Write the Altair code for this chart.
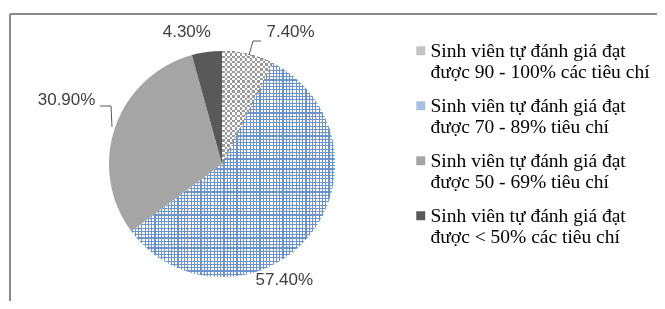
import altair as alt
import pandas as pd

categories = [
    "Sinh viên tự đánh giá đạt\nđược 90 - 100% các tiêu chí",
    "Sinh viên tự đánh giá đạt\nđược 70 - 89% tiêu chí",
    "Sinh viên tự đánh giá đạt\nđược 50 - 69% tiêu chí",
    "Sinh viên tự đánh giá đạt\nđược < 50% các tiêu chí",
]
values = [7.4, 57.4, 30.9, 4.3]
value_labels = ["7.40%", "57.40%", "30.90%", "4.30%"]
colors = ["#c4c4c4", "#a7bfe3", "#a5a5a5", "#595959"]

df = pd.DataFrame({
    "cat": categories,
    "value": values,
    "label": value_labels,
    "order": list(range(len(values))),
})

W, H = 647, 287
CX, CY, R = 212, 150, 113
theta_scale = alt.Scale(domain=[0, 100], range=[0, 6.283185307179586])

base = alt.Chart(df)
pie_enc = dict(
    theta=alt.Theta("value:Q", stack=True, scale=theta_scale),
    order=alt.Order("order:Q"),
    x=alt.value(CX),
    y=alt.value(CY),
)

pie = base.mark_arc(outerRadius=R).encode(
    color=alt.Color(
        "cat:N",
        sort=categories,
        scale=alt.Scale(domain=categories, range=colors),
        legend=alt.Legend(
            title=None, orient="none", legendX=401, legendY=27,
            symbolType="square", symbolSize=80, symbolStrokeWidth=0,
            labelFont="Liberation Serif", labelFontSize=19.5, labelColor="black",
            labelExpr="split(datum.label, '\\n')", labelLimit=400,
            rowPadding=13, labelOffset=0,
        ),
    ),
    **pie_enc,
)


def stripes(n, frac, line, gap, vertical):
    stops = []
    for k in range(n):
        a, b, c = k / n, (k + frac) / n, (k + 1) / n
        stops += [alt.GradientStop(offset=a, color=line),
                  alt.GradientStop(offset=b, color=line),
                  alt.GradientStop(offset=b, color=gap),
                  alt.GradientStop(offset=c, color=gap)]
    if vertical:
        return alt.LinearGradient(gradient="linear", stops=stops, x1=0, x2=1, y1=0, y2=0)
    return alt.LinearGradient(gradient="linear", stops=stops, x1=0, x2=0, y1=0, y2=1)


def only(i):
    return alt.condition(f"datum.order == {i}", alt.value(1), alt.value(0))


# blue grid texture on the 57.40% slice
BLUE = "#6a93d0"
grid_v = base.mark_arc(outerRadius=R, fill=stripes(62, 0.35, BLUE, "#ffffff", True)).encode(
    opacity=only(1), **pie_enc)
grid_h = base.mark_arc(outerRadius=R, fill=stripes(65, 0.35, BLUE, "rgba(255,255,255,0)", False)).encode(
    opacity=only(1), **pie_enc)

# checker texture on the 7.40% slice
chk_v = base.mark_arc(outerRadius=R, fill=stripes(10, 0.5, "#000000", "#ffffff", True)).encode(
    opacity=only(0), **pie_enc)
chk_h = base.mark_arc(outerRadius=R, blend="difference",
                      fill=stripes(23, 0.5, "#000000", "#ffffff", False)).encode(
    opacity=only(0), **pie_enc)
chk_g = base.mark_arc(outerRadius=R, blend="lighten", fill="#9a9a9a").encode(
    opacity=only(0), **pie_enc)

lab = base.transform_window(
    cum="sum(value)", sort=[alt.SortField("order")], frame=[None, 0]
).transform_calculate(mid="datum.cum - datum.value / 2")

# label nudges (Excel labels were moved by hand)
nudges = [(37, 1, 137), (-45, 26, 140), (-23, -19, 140), (-17, 2, 135)]
text_layers = []
for i, (dx, dy, rad) in enumerate(nudges):
    text_layers.append(
        lab.transform_filter(f"datum.order == {i}").mark_text(
            radius=rad, dx=dx, dy=dy, font="Liberation Sans", fontSize=17,
            color="#404040",
        ).encode(
            theta=alt.Theta("mid:Q", scale=theta_scale, stack=None),
            text="label:N",
            x=alt.value(CX),
            y=alt.value(CY),
        )
    )

one = alt.Chart(pd.DataFrame({"a": [0]}))
frame_top = one.mark_rule(color="#8a8a8a", strokeWidth=2).encode(
    x=alt.value(0), x2=alt.value(W), y=alt.value(0))
frame_left = one.mark_rule(color="#8a8a8a", strokeWidth=2).encode(
    x=alt.value(0), y=alt.value(0), y2=alt.value(H))


def seg(x1, y1, x2, y2):
    return one.mark_rule(color="#595959", strokeWidth=1).encode(
        x=alt.value(x1), y=alt.value(y1), x2=alt.value(x2), y2=alt.value(y2))


leaders = [
    seg(239, 41, 243, 27), seg(243, 27, 251, 27),
    seg(90, 92, 101, 92), seg(101, 92, 102, 113),
]

chart = alt.layer(
    pie, grid_v, grid_h, chk_v, chk_h, chk_g, *text_layers, *leaders, frame_top, frame_left
).properties(
    width=W, height=H,
    autosize=alt.AutoSizeParams(type="none"),
    padding={"left": 2, "top": 6, "right": 0, "bottom": 0},
).configure_view(stroke=None)

chart.save("out.html", embed_options={"renderer": "svg", "actions": False})
